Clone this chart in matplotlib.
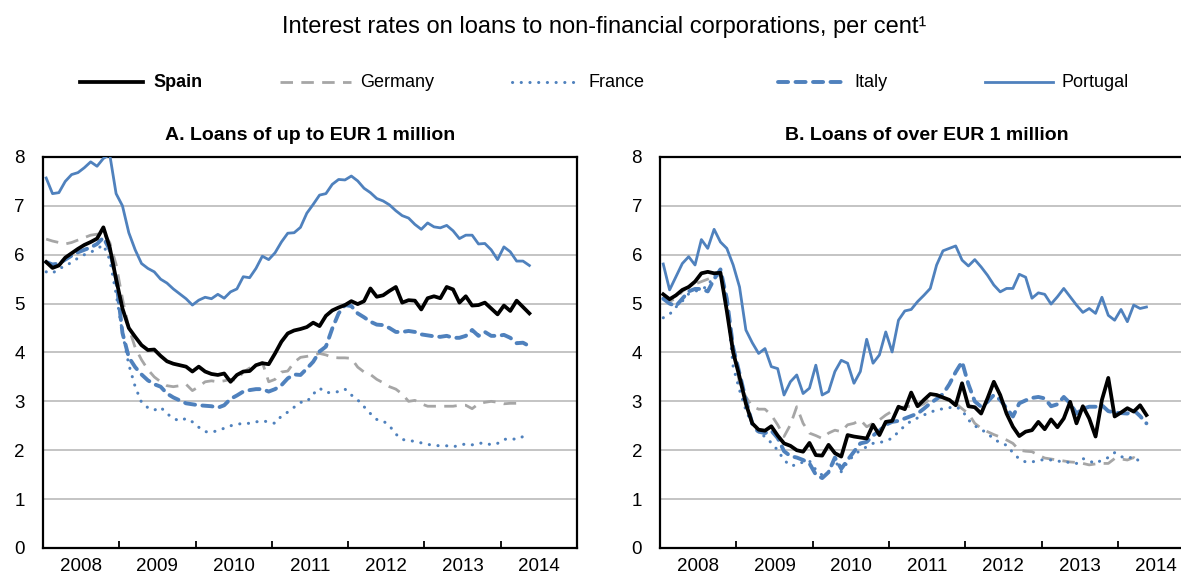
import numpy as np
import matplotlib
matplotlib.use('Agg')
import matplotlib.pyplot as plt
from matplotlib.lines import Line2D

plt.rcParams['font.family'] = ['Liberation Sans Narrow', 'Liberation Sans', 'DejaVu Sans']

nan = np.nan

# monthly observations, Jan 2008 - May 2014
months = np.arange(77)
years = ['2008', '2009', '2010', '2011', '2012', '2013', '2014']

# A. Loans of up to EUR 1 million
spain_a = [5.85, 5.73, 5.78, 5.94, 6.03, 6.12, 6.2, 6.26, 6.33, 6.56,
           6.15, 5.5, 4.9, 4.5, 4.32, 4.15, 4.05, 4.06, 3.93, 3.82,
           3.77, 3.74, 3.71, 3.61, 3.71, 3.61, 3.56, 3.54, 3.57, 3.40,
           3.54, 3.61, 3.62, 3.74, 3.78, 3.76, 3.98, 4.22, 4.39, 4.45,
           4.48, 4.52, 4.61, 4.54, 4.75, 4.86, 4.92, 4.97, 5.05, 4.99,
           5.05, 5.31, 5.14, 5.17, 5.26, 5.34, 5.02, 5.07, 5.06, 4.88,
           5.11, 5.15, 5.11, 5.34, 5.29, 5.02, 5.15, 4.96, 4.97, 5.02,
           4.90, 4.78, 4.96, 4.85, 5.06, 4.93, 4.80]
germany_a = [6.32, 6.28, 6.25, 6.22, 6.25, 6.3, 6.35, 6.4, 6.42, 6.45,
             6.25, 5.8, 5.1, 4.5, 4.1, 3.85, 3.65, 3.5, 3.4, 3.32,
             3.3, 3.32, 3.35, 3.22, 3.3, 3.4, 3.42, 3.4, 3.42, 3.45,
             3.43, 3.6, 3.68, 3.74, 3.8, 3.4, 3.45, 3.6, 3.62, 3.8,
             3.9, 3.92, 3.95, 3.98, 3.95, 3.9, 3.89, 3.89, 3.88, 3.7,
             3.6, 3.55, 3.45, 3.38, 3.3, 3.25, 3.15, 3.0, 3.02, 2.95,
             2.9, 2.9, 2.9, 2.9, 2.9, 2.92, 2.92, 2.85, 2.95, 2.98,
             3.0, 2.98, 2.95, 2.96, 2.96, nan, nan]
france_a = [5.65, 5.62, 5.72, 5.76, 5.85, 5.93, 6.0, 6.05, 6.12, 6.2,
            5.9, 5.2, 4.4, 3.75, 3.3, 2.98, 2.87, 2.82, 2.88, 2.75,
            2.65, 2.6, 2.65, 2.58, 2.47, 2.38, 2.37, 2.4, 2.45, 2.5,
            2.53, 2.55, 2.55, 2.58, 2.6, 2.58, 2.55, 2.7, 2.78, 2.88,
            2.98, 2.99, 3.15, 3.27, 3.18, 3.18, 3.2, 3.25, 3.13, 3.03,
            2.89, 2.75, 2.63, 2.6, 2.5, 2.33, 2.22, 2.2, 2.18, 2.15,
            2.12, 2.1, 2.09, 2.09, 2.07, 2.1, 2.13, 2.11, 2.14, 2.15,
            2.11, 2.14, 2.22, 2.24, 2.22, 2.28, nan]
italy_a = [5.85, 5.8, 5.82, 5.9, 5.98, 6.05, 6.1, 6.15, 6.22, 6.35,
           6.1, 5.5, 4.4, 3.9, 3.7, 3.55, 3.43, 3.35, 3.3, 3.16,
           3.08, 3.02, 2.96, 2.94, 2.92, 2.91, 2.9, 2.87, 2.92, 3.05,
           3.12, 3.2, 3.23, 3.25, 3.25, 3.2, 3.25, 3.33, 3.47, 3.55,
           3.54, 3.67, 3.81, 4.02, 4.12, 4.49, 4.8, 4.97, 4.95, 4.8,
           4.72, 4.63, 4.57, 4.56, 4.5, 4.42, 4.42, 4.44, 4.42, 4.37,
           4.35, 4.33, 4.32, 4.34, 4.3, 4.3, 4.34, 4.46, 4.34, 4.42,
           4.34, 4.34, 4.36, 4.3, 4.19, 4.2, 4.13]
portugal_a = [7.57, 7.25, 7.27, 7.5, 7.64, 7.68, 7.78, 7.9, 7.81, 7.97,
              8.05, 7.25, 7.0, 6.45, 6.1, 5.82, 5.72, 5.65, 5.5, 5.42,
              5.3, 5.2, 5.1, 4.97, 5.07, 5.13, 5.1, 5.19, 5.11, 5.24,
              5.3, 5.55, 5.53, 5.72, 5.97, 5.9, 6.04, 6.26, 6.44, 6.45,
              6.56, 6.85, 7.03, 7.22, 7.25, 7.44, 7.54, 7.53, 7.61, 7.51,
              7.36, 7.27, 7.15, 7.1, 7.02, 6.9, 6.8, 6.75, 6.62, 6.52,
              6.65, 6.57, 6.55, 6.6, 6.49, 6.33, 6.4, 6.4, 6.22, 6.23,
              6.1, 5.9, 6.16, 6.06, 5.87, 5.87, 5.78]

# B. Loans of over EUR 1 million
spain_b = [5.19, 5.09, 5.17, 5.28, 5.34, 5.45, 5.62, 5.65, 5.62, 5.63,
           4.85, 4.0, 3.5, 2.95, 2.55, 2.42, 2.4, 2.49, 2.3, 2.14,
           2.09, 2.0, 1.97, 2.15, 1.9, 1.89, 2.11, 1.94, 1.87, 2.31,
           2.28, 2.26, 2.24, 2.52, 2.31, 2.58, 2.6, 2.89, 2.84, 3.18,
           2.90, 3.03, 3.15, 3.13, 3.08, 3.03, 2.92, 3.37, 2.90, 2.88,
           2.75, 3.06, 3.40, 3.13, 2.75, 2.48, 2.29, 2.38, 2.41, 2.58,
           2.43, 2.63, 2.47, 2.65, 2.99, 2.55, 2.90, 2.65, 2.28, 3.03,
           3.48, 2.69, 2.77, 2.86, 2.79, 2.92, 2.72]
germany_b = [5.15, 5.05, 5.1, 5.25, 5.35, 5.4, 5.45, 5.5, 5.55, 5.6,
             5.0, 4.1, 3.37, 3.09, 2.9, 2.84, 2.84, 2.72, 2.52, 2.28,
             2.52, 2.89, 2.55, 2.35, 2.3, 2.24, 2.35, 2.41, 2.38, 2.52,
             2.55, 2.62, 2.48, 2.55, 2.62, 2.72, 2.8, 2.86, 2.89, 2.9,
             2.89, 2.95, 3.05, 3.07, 3.07, 3.0, 2.96, 2.85, 2.75, 2.55,
             2.45, 2.38, 2.32, 2.27, 2.21, 2.14, 2.0, 1.98, 1.97, 1.9,
             1.84, 1.82, 1.8, 1.78, 1.76, 1.75, 1.73, 1.7, 1.72, 1.73,
             1.73, 1.83, 1.82, 1.8, 1.85, 1.76, nan]
france_b = [4.71, 4.78, 4.93, 5.05, 5.2, 5.25, 5.3, 5.35, 5.6, 5.69,
            5.0, 3.71, 3.23, 2.82, 2.52, 2.35, 2.28, 2.15, 2.0, 1.8,
            1.68, 1.70, 1.76, 1.78, 1.6, 1.49, 1.56, 1.80, 1.56, 1.76,
            1.9, 2.0, 2.07, 2.14, 2.15, 2.2, 2.24, 2.38, 2.5, 2.6,
            2.66, 2.72, 2.78, 2.82, 2.85, 2.87, 2.89, 2.82, 2.62, 2.5,
            2.42, 2.35, 2.22, 2.16, 2.1, 1.95, 1.82, 1.76, 1.76, 1.79,
            1.81, 1.8, 1.78, 1.76, 1.75, 1.73, 1.83, 1.78, 1.73, 1.8,
            1.85, 1.95, 1.87, 1.83, 1.87, 1.76, nan]
italy_b = [5.1, 5.0, 4.95, 5.1, 5.25, 5.3, 5.3, 5.25, 5.5, 5.7,
           5.1, 4.1, 3.57, 3.03, 2.55, 2.38, 2.35, 2.4, 2.25, 1.98,
           1.88, 1.85, 1.8, 1.73, 1.5, 1.43, 1.55, 1.85, 1.62, 1.8,
           1.97, 2.14, 2.17, 2.3, 2.4, 2.52, 2.58, 2.6, 2.65, 2.7,
           2.75, 2.85, 2.96, 3.05, 3.15, 3.35, 3.6, 3.81, 3.35, 3.0,
           2.89, 2.99, 3.13, 3.03, 2.86, 2.69, 2.96, 3.02, 3.07, 3.09,
           3.06, 2.9, 2.94, 3.09, 2.96, 2.75, 2.85, 2.89, 2.89, 2.92,
           2.8, 2.77, 2.76, 2.75, 2.82, 2.7, 2.55]
portugal_b = [5.81, 5.28, 5.55, 5.82, 5.96, 5.79, 6.31, 6.13, 6.52, 6.26,
              6.13, 5.79, 5.34, 4.46, 4.2, 3.98, 4.08, 3.71, 3.67, 3.13,
              3.40, 3.54, 3.16, 3.27, 3.74, 3.13, 3.20, 3.61, 3.84, 3.78,
              3.37, 3.61, 4.27, 3.78, 3.95, 4.42, 4.01, 4.66, 4.85, 4.88,
              5.04, 5.17, 5.31, 5.79, 6.08, 6.13, 6.18, 5.89, 5.77, 5.90,
              5.75, 5.58, 5.38, 5.24, 5.31, 5.31, 5.60, 5.54, 5.11, 5.22,
              5.19, 4.99, 5.14, 5.31, 5.14, 4.97, 4.82, 4.90, 4.80, 5.13,
              4.76, 4.66, 4.88, 4.63, 4.97, 4.90, 4.93]

blue = '#4F81BD'
styles = {
    'Spain': dict(color='black', lw=2.7, zorder=6),
    'Germany': dict(color='#A6A6A6', lw=2.0, dashes=(4.5, 3.0), zorder=2),
    'France': dict(color=blue, lw=2.2, dashes=(0.05, 2.8), dash_capstyle='round', zorder=3),
    'Italy': dict(color=blue, lw=2.8, dashes=(2.6, 1.9), dash_capstyle='round', zorder=4),
    'Portugal': dict(color=blue, lw=2.0, zorder=5),
}

panel_a = {'Germany': germany_a, 'France': france_a, 'Italy': italy_a,
           'Portugal': portugal_a, 'Spain': spain_a}
panel_b = {'Germany': germany_b, 'France': france_b, 'Italy': italy_b,
           'Portugal': portugal_b, 'Spain': spain_b}

fig = plt.figure(figsize=(11.81, 5.75), dpi=100)
ax_a = fig.add_axes([0.0364, 0.047, 0.4522, 0.68])
ax_b = fig.add_axes([0.5589, 0.047, 0.4522, 0.68])


def draw_panel(ax, series, title):
    for name, vals in series.items():
        ax.plot(months, vals, **styles[name])
    ax.set_xlim(-0.5, 83.5)
    ax.set_ylim(0, 8)
    ax.set_yticks(range(9))
    ax.yaxis.grid(True, color='#BFBFBF', lw=1.3)
    ax.set_axisbelow(True)
    # tick marks between years, labels in the middle of each year
    ax.set_xticks(np.arange(11.5, 72, 12))
    ax.set_xticklabels([])
    ax.set_xticks(np.arange(5.5, 84, 12), minor=True)
    ax.set_xticklabels(years, minor=True)
    ax.tick_params(axis='x', which='major', direction='in', length=5, width=1.3)
    ax.tick_params(axis='x', which='minor', length=0, pad=7, labelsize=13.5)
    ax.tick_params(axis='y', length=0, pad=13, labelsize=13.5)
    for s in ax.spines.values():
        s.set_linewidth(1.6)
    ax.set_title(title, fontsize=14, fontweight='bold', pad=12)


draw_panel(ax_a, panel_a, 'A. Loans of up to EUR 1 million')
draw_panel(ax_b, panel_b, 'B. Loans of over EUR 1 million')

fig.text(0.5115, 0.953, 'Interest rates on loans to non-financial corporations, per cent\u00b9',
         ha='center', va='center', fontsize=17)

# legend row across the top: (line start, line end, text start) in figure fractions
legend_pos = {'Spain': (0.0677, 0.1211, 0.1296),
              'Germany': (0.2371, 0.2972, 0.3048),
              'France': (0.4335, 0.4920, 0.4987),
              'Italy': (0.6588, 0.7138, 0.7231),
              'Portugal': (0.8340, 0.8916, 0.8984)}
ly = 0.857
for name, (x0, x1, xt) in legend_pos.items():
    st = dict(styles[name])
    st.pop('zorder')
    fig.add_artist(Line2D([x0, x1], [ly, ly], transform=fig.transFigure, **st))
    fig.text(xt, ly, name, ha='left', va='center', fontsize=13,
             fontweight='bold' if name == 'Spain' else 'normal')

fig.savefig('out.png', dpi=100)
